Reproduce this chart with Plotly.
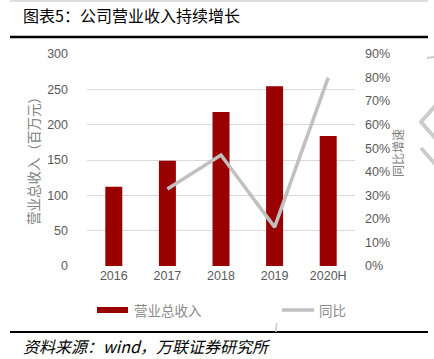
import plotly.graph_objects as go

categories = ["2016", "2017", "2018", "2019", "2020H"]
revenue = [112, 149, 218, 254.5, 184]
yoy_categories = ["2017", "2018", "2019", "2020H"]
yoy = [0.327, 0.471, 0.165, 0.80]

W, H = 434, 359
L, R, T, B = 87, 355, 54, 266  # plot area in pixels


def xp(px):
    return (px - L) / (R - L)


def yp(py):
    return (B - py) / (B - T)


CJK = "Noto Sans CJK SC"
TICK = "Liberation Sans, Arial, sans-serif"

fig = go.Figure()
fig.add_trace(go.Bar(x=categories, y=revenue, marker=dict(color="#990000", line=dict(width=0)),
                     name="营业总收入", showlegend=False))
fig.add_trace(go.Scatter(x=yoy_categories, y=yoy, mode="lines", yaxis="y2",
                         line=dict(color="#c0c0c0", width=3.5), name="同比", showlegend=False))

shapes = []
# top thin line
shapes.append(dict(type="line", xref="paper", yref="paper", x0=xp(10), x1=xp(428), y0=yp(1), y1=yp(1),
                   line=dict(color="#bbbbbb", width=1)))
# line under title
shapes.append(dict(type="line", xref="paper", yref="paper", x0=xp(10), x1=xp(428), y0=yp(37), y1=yp(37),
                   line=dict(color="#000000", width=2.5)))
# bottom line
shapes.append(dict(type="line", xref="paper", yref="paper", x0=xp(10), x1=xp(428), y0=yp(332), y1=yp(332),
                   line=dict(color="#000000", width=2)))
# legend markers
shapes.append(dict(type="rect", xref="paper", yref="paper", x0=xp(97), x1=xp(128), y0=yp(313), y1=yp(307),
                   fillcolor="#990000", line=dict(width=0)))
shapes.append(dict(type="line", xref="paper", yref="paper", x0=xp(282), x1=xp(314), y0=yp(310), y1=yp(310),
                   line=dict(color="#c0c0c0", width=3.5)))
# small gray tick near bottom line
shapes.append(dict(type="line", xref="paper", yref="paper", x0=xp(276.5), x1=xp(276), y0=yp(323), y1=yp(332),
                   line=dict(color="#c8c8c8", width=1.5)))
# partial chevrons at right edge
shapes.append(dict(type="line", xref="paper", yref="paper", x0=xp(427), x1=xp(434), y0=yp(58), y1=yp(57),
                   line=dict(color="#cccccc", width=2)))
shapes.append(dict(type="path", xref="paper", yref="paper",
                   path=f"M {xp(436)} {yp(105)} L {xp(421)} {yp(122)} L {xp(436)} {yp(139)}",
                   line=dict(color="#cccccc", width=4)))
shapes.append(dict(type="path", xref="paper", yref="paper",
                   path=f"M {xp(421)} {yp(148)} L {xp(436)} {yp(165)}",
                   line=dict(color="#cccccc", width=4)))

annotations = [
    dict(text="图表5：公司营业收入持续增长", xref="paper", yref="paper", x=xp(21), y=yp(15),
         xanchor="left", yanchor="middle", showarrow=False,
         font=dict(family=CJK, size=16, color="#000000")),
    dict(text="<i>资料来源：wind，万联证券研究所</i>", xref="paper", yref="paper", x=xp(21), y=yp(346),
         xanchor="left", yanchor="middle", showarrow=False,
         font=dict(family=CJK, size=16, color="#000000")),
    dict(text="营业总收入（百万元）", xref="paper", yref="paper", x=xp(33), y=yp(158),
         xanchor="center", yanchor="middle", showarrow=False, textangle=-90,
         font=dict(family=CJK, size=13.5, color="#808080")),
    dict(text="同比增速", xref="paper", yref="paper", x=xp(397), y=yp(153),
         xanchor="center", yanchor="middle", showarrow=False, textangle=-90,
         font=dict(family=CJK, size=12, color="#808080")),
    dict(text="营业总收入", xref="paper", yref="paper", x=xp(132), y=yp(310),
         xanchor="left", yanchor="middle", showarrow=False,
         font=dict(family=CJK, size=13.5, color="#8c8c8c")),
    dict(text="同比", xref="paper", yref="paper", x=xp(317), y=yp(310),
         xanchor="left", yanchor="middle", showarrow=False,
         font=dict(family=CJK, size=13.5, color="#8c8c8c")),
]

fig.update_layout(
    width=W, height=H,
    margin=dict(l=L, r=W - R, t=T, b=H - B, pad=0),
    paper_bgcolor="white", plot_bgcolor="white",
    bargap=0.683,
    showlegend=False,
    xaxis=dict(type="category", showgrid=False, showline=False, zeroline=False, ticks="",
               tickfont=dict(family=TICK, size=12.5, color="#595959")),
    yaxis=dict(range=[0, 300], dtick=50, showgrid=True, gridcolor="#d9d9d9", gridwidth=1,
               zeroline=False, showline=False, ticks="", ticklabelstandoff=18,
               tickfont=dict(family=TICK, size=12.5, color="#595959")),
    yaxis2=dict(range=[0, 0.9], dtick=0.1, tickformat=".0%", overlaying="y", side="right",
                showgrid=False, zeroline=False, showline=False, ticks="", ticklabelstandoff=9,
                tickfont=dict(family=TICK, size=12.5, color="#595959")),
    shapes=shapes,
    annotations=annotations,
)

fig.write_html("out.html", config={"displayModeBar": False},
               post_script="document.body.style.margin='0';document.body.style.overflow='hidden';")
